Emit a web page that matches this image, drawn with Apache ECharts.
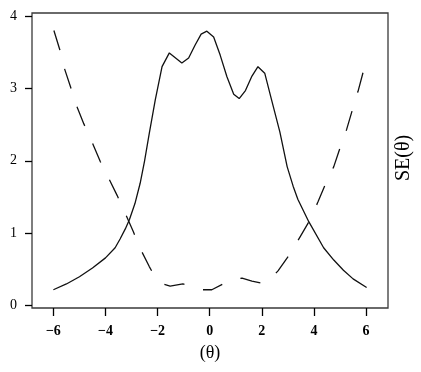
<!DOCTYPE html>
<html><head><meta charset="utf-8">
<script src="https://cdn.jsdelivr.net/npm/echarts@6/dist/echarts.min.js"></script>
<style>html,body{margin:0;padding:0;background:#fff}#c{width:421px;height:372px}</style>
</head><body><div id="c"></div>
<script>
// Solid curve
const solidTheta = [-6.0,-5.5,-5.0,-4.5,-4.0,-3.63,-3.44,-3.24,-3.08,-2.87,-2.67,-2.5,-2.32,-2.09,-1.83,-1.55,-1.07,-0.81,-0.56,-0.33,-0.11,0.15,0.4,0.66,0.92,1.13,1.37,1.62,1.85,2.11,2.36,2.69,2.97,3.2,3.38,3.8,4.37,4.76,5.13,5.5,6.02];
const solidValue = [0.22,0.30,0.40,0.52,0.66,0.80,0.92,1.06,1.19,1.41,1.69,2.00,2.38,2.84,3.30,3.49,3.35,3.42,3.6,3.75,3.79,3.71,3.46,3.16,2.92,2.86,2.97,3.17,3.30,3.21,2.86,2.40,1.92,1.65,1.47,1.16,0.80,0.63,0.49,0.37,0.25];
// Dashed curve
const dashTheta = [-5.98,-5.75,-5.58,-5.34,-5.11,-4.83,-4.53,-4.2,-3.89,-3.55,-3.25,-2.93,-2.67,-2.32,-2.1,-1.87,-1.52,-1.03,-0.65,-0.28,0.08,0.51,0.85,1.24,1.62,2.0,2.25,2.62,3.07,3.45,3.84,4.15,4.44,4.76,5.02,5.25,5.47,5.69,5.89];
const dashValue = [3.80,3.53,3.28,3.02,2.76,2.51,2.27,1.99,1.77,1.52,1.28,1.02,0.79,0.54,0.40,0.31,0.27,0.30,0.26,0.22,0.22,0.30,0.36,0.38,0.34,0.31,0.34,0.48,0.71,0.94,1.18,1.43,1.68,1.92,2.20,2.43,2.70,2.96,3.23];
const xTicks = [-6,-4,-2,0,2,4,6];
const yTicks = [0,1,2,3,4];

const chart = echarts.init(document.getElementById('c'), null, {renderer:'canvas'});
const serif = 'Liberation Serif';
chart.setOption({
  animation:false,
  backgroundColor:'#fff',
  grid:{left:32,right:33,top:13,bottom:64,show:true,borderColor:'#3a3a3a',borderWidth:1.3,backgroundColor:'transparent'},
  xAxis:{type:'value',min:-6.82,max:6.84,
    name:'(θ)',nameLocation:'middle',nameGap:36,
    nameTextStyle:{fontFamily:serif,fontSize:18,color:'#000'},
    axisLine:{show:false,onZero:false},
    axisTick:{show:true,inside:false,length:8,customValues:xTicks,lineStyle:{color:'#000',width:1.3}},
    axisLabel:{customValues:xTicks,margin:16,fontFamily:serif,fontWeight:'bold',fontSize:14,color:'#000',
      formatter:v=>String(v).replace('-','\u2212')},
    splitLine:{show:false}},
  yAxis:{type:'value',min:-0.032,max:4.041,
    axisLine:{show:false,onZero:false},
    axisTick:{show:true,inside:false,length:7,customValues:yTicks,lineStyle:{color:'#000',width:1.3}},
    axisLabel:{customValues:yTicks,margin:15,fontFamily:serif,fontSize:14,color:'#000'},
    splitLine:{show:false}},
  graphic:[{type:'text',x:404,y:158,rotation:Math.PI/2,
    style:{text:'SE(θ)',font:'20px "Liberation Serif"',fill:'#000',textAlign:'center',textVerticalAlign:'middle'}}],
  series:[
    {type:'line',data:solidTheta.map((t,i)=>[t,solidValue[i]]),showSymbol:false,smooth:false,
      lineStyle:{color:'#111',width:1.3}},
    {type:'line',data:dashTheta.map((t,i)=>[t,dashValue[i]]),showSymbol:false,smooth:false,
      lineStyle:{color:'#111',width:1.3,type:[20.6,19.3]}}
  ]
});
</script></body></html>
